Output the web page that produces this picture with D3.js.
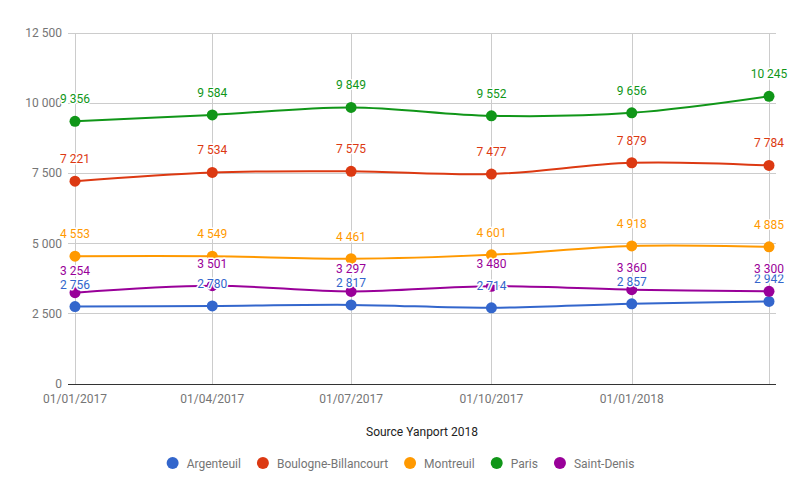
<!DOCTYPE html>
<html><head><meta charset="utf-8">
<script src="https://cdn.jsdelivr.net/npm/d3@7"></script>
<style>body{margin:0;background:#fff}svg{font-family:Roboto,Arial,sans-serif}</style>
</head><body>
<svg id="chart" width="801" height="495"></svg>
<script>
const dates = ["2017-01-01","2017-04-01","2017-07-01","2017-10-01","2018-01-01","2018-04-01"];
const tickLabels = ["01/01/2017","01/04/2017","01/07/2017","01/10/2017","01/01/2018",""];
const seriesNames = ["Argenteuil","Boulogne-Billancourt","Montreuil","Paris","Saint-Denis"];
const argenteuil = [2756,2780,2817,2714,2857,2942];
const boulogne = [7221,7534,7575,7477,7879,7784];
const montreuil = [4553,4549,4461,4601,4918,4885];
const paris = [9356,9584,9849,9552,9656,10245];
const saintDenis = [3254,3501,3297,3480,3360,3300];
const yTicks = [0,2500,5000,7500,10000,12500];
const colors = ["#3366cc","#dc3912","#ff9900","#109618","#990099"];
const xTitle = "Source Yanport 2018";

const series = [argenteuil,boulogne,montreuil,paris,saintDenis].map((v,i)=>({name:seriesNames[i],values:v,color:colors[i]}));
const parse = d3.timeParse("%Y-%m-%d");
const dateObjs = dates.map(parse);
const loc = d3.formatLocale({decimal:",",thousands:"\u00a0",grouping:[3],currency:["","€"]});
const fmt = loc.format(",d");

const svg = d3.select("#chart");
const x = d3.scaleTime().domain([dateObjs[0], dateObjs[dateObjs.length-1]]).range([75,769]);
const y = d3.scaleLinear().domain([0,12500]).range([384,33]);
const left = 68, right = 776;

// horizontal gridlines
svg.append("g").selectAll("line").data(yTicks.filter(d=>d>0)).join("line")
  .attr("x1",left).attr("x2",right).attr("y1",d=>y(d)).attr("y2",d=>y(d))
  .attr("stroke","#cccccc").attr("stroke-width",1).attr("shape-rendering","crispEdges");
// vertical gridlines
svg.append("g").selectAll("line").data(dateObjs).join("line")
  .attr("x1",d=>Math.round(x(d))+0.5).attr("x2",d=>Math.round(x(d))+0.5).attr("y1",y(12500)).attr("y2",y(0))
  .attr("stroke","#cccccc").attr("stroke-width",1);
// y tick labels
svg.append("g").selectAll("text").data(yTicks).join("text")
  .attr("x",62).attr("y",d=>y(d)+4).attr("text-anchor","end")
  .attr("font-size",12).attr("fill","#757575").text(d=>fmt(d));
// baseline
svg.append("line").attr("x1",left).attr("x2",right).attr("y1",y(0)+0.5).attr("y2",y(0)+0.5)
  .attr("stroke","#333333").attr("stroke-width",1);
// x tick labels
svg.append("g").selectAll("text").data(dateObjs).join("text")
  .attr("x",d=>x(d)).attr("y",403).attr("text-anchor","middle")
  .attr("font-size",12).attr("fill","#757575").text((d,i)=>tickLabels[i]);
// x title
svg.append("text").attr("x",422).attr("y",436).attr("text-anchor","middle")
  .attr("font-size",12).attr("fill","#222222").text(xTitle);

// lines
const line = d3.line().x((d,i)=>x(dateObjs[i])).y(d=>y(d)).curve(d3.curveCatmullRom.alpha(0.5));
svg.append("g").selectAll("path").data(series).join("path")
  .attr("d",s=>line(s.values)).attr("fill","none").attr("stroke",s=>s.color).attr("stroke-width",2);
// points
series.forEach(s=>{
  svg.append("g").selectAll("circle").data(s.values).join("circle")
    .attr("cx",(d,i)=>x(dateObjs[i])).attr("cy",d=>y(d)).attr("r",5.5).attr("fill",s.color);
});
// labels
series.forEach(s=>{
  svg.append("g").selectAll("text").data(s.values).join("text")
    .attr("x",(d,i)=>x(dateObjs[i])).attr("y",d=>y(d)-18).attr("text-anchor","middle")
    .attr("font-size",12).attr("fill",s.color)
    .attr("stroke","#fff").attr("stroke-width",3).attr("paint-order","stroke").attr("stroke-linejoin","round")
    .text(d=>fmt(d));
});

// legend
const lg = svg.append("g");
let cx = 0;
const items = [];
series.forEach(s=>{
  const g = lg.append("g");
  g.append("circle").attr("cx",cx).attr("cy",0).attr("r",6).attr("fill",s.color);
  const t = g.append("text").attr("x",cx+14).attr("y",4.5).attr("font-size",12).attr("fill","#757575").text(s.name);
  const w = t.node().getComputedTextLength();
  cx += 14 + w + 22;
});
const total = cx - 22 + 6;
lg.attr("transform",`translate(${400.5 - total/2 + 6},463)`);
</script>
</body></html>
